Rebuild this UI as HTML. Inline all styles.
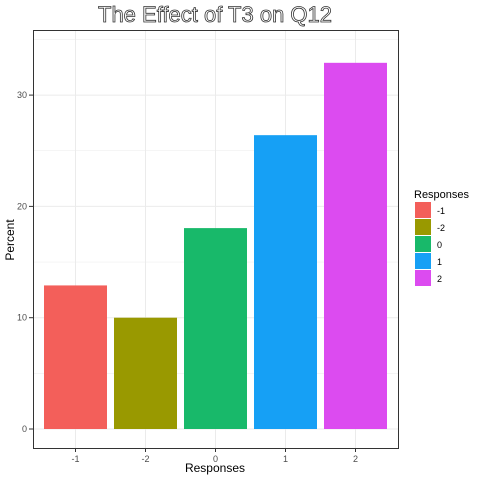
<!DOCTYPE html>
<html><head><meta charset="utf-8"><style>body{margin:0;background:#fff}svg{display:block;font-family:"Liberation Sans",sans-serif}</style></head>
<body>
<svg width="480" height="480">
<rect x="0" y="0" width="480" height="480" fill="#fff"/>
<g id="grid"></g>
<g id="bars"></g>
<rect x="33.5" y="30.5" width="365" height="418" fill="none" stroke="#333" stroke-width="1"/>
<g id="axes"></g>
<text x="215" y="22" text-anchor="middle" font-size="22" fill="#fff" stroke="#333" stroke-width="0.8">The Effect of T3 on Q12</text>
<text x="215" y="472" text-anchor="middle" font-size="12" fill="#000">Responses</text>
<text x="14" y="240" text-anchor="middle" font-size="12" fill="#000" transform="rotate(-90 14 240)">Percent</text>
<text x="414" y="198" font-size="11" fill="#000">Responses</text>
<g id="legend"></g>
</svg>
<script>
const categories = ["-1","-2","0","1","2"];
const values = [12.9, 10.0, 18.05, 26.4, 32.9];
const colors = ["#F35F5A","#999900","#18B96A","#16A0F5","#DC4BF0"];
const yTicks = [0,10,20,30];
const ns="http://www.w3.org/2000/svg";
function y(v){return 429 - v*11.13;}
function x(i){return 75.5 + i*70;}
function mk(tag,attrs,parent){const e=document.createElementNS(ns,tag);for(const k in attrs)e.setAttribute(k,attrs[k]);document.getElementById(parent).appendChild(e);return e;}
for(let v=-5;v<=40;v+=5){const yy=y(v);if(yy<30||yy>448)continue;
 const l=mk('line',{x1:33,x2:398,y1:yy,y2:yy,stroke:'#ebebeb','stroke-width':v%10===0?1:0.5},'grid');
 
 }
categories.forEach((c,i)=>{const l=mk('line',{x1:x(i),x2:x(i),y1:30,y2:448,stroke:'#ebebeb','stroke-width':1},'grid');
 
 });
categories.forEach((c,i)=>{
 const r=mk('rect',{x:x(i)-31.5,width:63,y:y(values[i]),height:y(0)-y(values[i]),fill:colors[i]},'bars');
 
 
 const t=mk('line',{x1:x(i),x2:x(i),y1:448,y2:452,stroke:'#333'},'axes');
 
 
 const tl=mk('text',{x:x(i),y:462,'text-anchor':'middle','font-size':9,fill:'#4d4d4d'},'axes');tl.textContent=c;
 
 
 const k=mk('rect',{x:415,y:202+i*17,width:16,height:16,fill:colors[i]},'legend');
 
 
 const kt=mk('text',{x:437,y:214+i*17,'font-size':9,fill:'#000'},'legend');kt.textContent=c;
 
 
});
yTicks.forEach(v=>{
 const t=mk('line',{x1:29,x2:33,y1:y(v),y2:y(v),stroke:'#333'},'axes');
 
 
 const tl=mk('text',{x:27,y:y(v)+3,'text-anchor':'end','font-size':9,fill:'#4d4d4d'},'axes');tl.textContent=v;
 
 
});
</script>
</body></html>
